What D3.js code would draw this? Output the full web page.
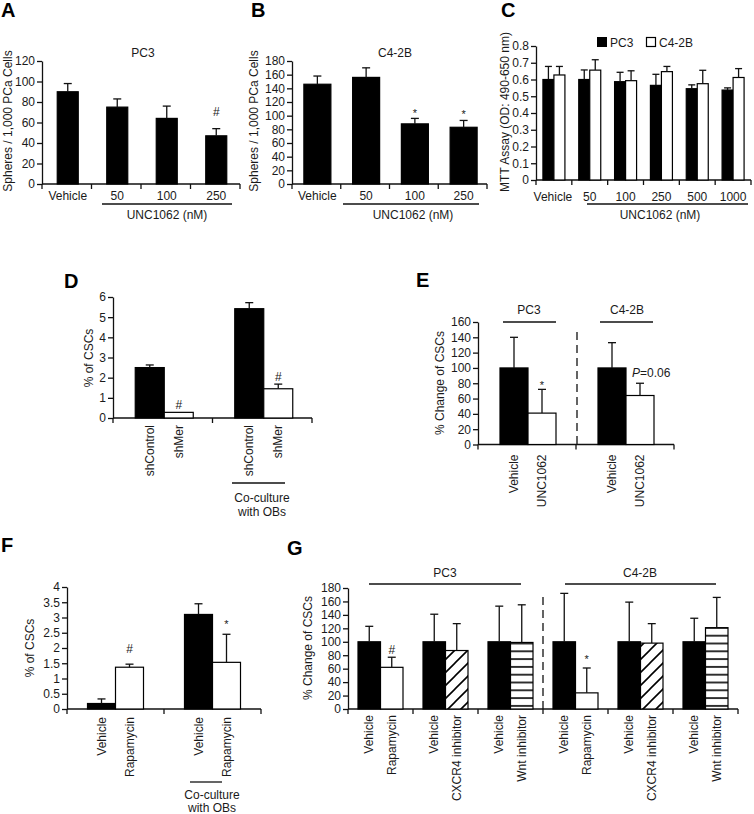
<!DOCTYPE html>
<html><head><meta charset="utf-8">
<script src="https://cdn.jsdelivr.net/npm/d3@7"></script>
<style>body{margin:0;background:#fff}</style>
</head><body>
<svg id="fig" width="754" height="814"></svg>
<script>
// ---------------- DATA ----------------
const doseCatsAB = ["Vehicle", "50", "100", "250"];
const aValues = [90, 75, 64, 47];
const aErrors = [8, 8, 12, 7];
const aMarks = ["", "", "", "#"];
const aMarkY = [null, null, null, 66];
const aTicks = [0, 20, 40, 60, 80, 100, 120];

const bValues = [146, 156, 88, 83];
const bErrors = [12, 14, 8, 10];
const bMarks = ["", "", "*", "*"];
const bMarkY = [null, null, 98, 96];
const bTicks = [0, 20, 40, 60, 80, 100, 120, 140, 160, 180];

const doseCatsC = ["Vehicle", "50", "100", "250", "500", "1000"];
const cPC3 = [0.60, 0.60, 0.587, 0.565, 0.545, 0.537];
const cPC3Err = [0.078, 0.057, 0.056, 0.066, 0.023, 0.013];
const cC42B = [0.627, 0.656, 0.593, 0.647, 0.575, 0.612];
const cC42BErr = [0.051, 0.062, 0.059, 0.031, 0.08, 0.053];
const cTicks = [0, 0.1, 0.2, 0.3, 0.4, 0.5, 0.6, 0.7, 0.8];
const cSeries = ["PC3", "C4-2B"];

const dGroups = ["mono", "coculture"];
const dCtrlLabels = ["shControl", "shControl"];
const dTrtLabels = ["shMer", "shMer"];
const dCtrl = [2.5, 5.42];
const dCtrlErr = [0.13, 0.3];
const dTrt = [0.28, 1.45];
const dTrtErr = [0, 0.23];
const dMarks = ["#", "#"];
const dMarkY = [0.47, 1.85];
const dTicks = [0, 1, 2, 3, 4, 5, 6];

const eGroups = ["PC3", "C4-2B"];
const eCtrlLabels = ["Vehicle", "Vehicle"];
const eTrtLabels = ["UNC1062", "UNC1062"];
const eCtrl = [100, 100];
const eCtrlErr = [40, 33];
const eTrt = [41, 64];
const eTrtErr = [31, 16];
const eMarks = ["*", "P=0.06"];
const eMarkY = [73, 88];
const eTicks = [0, 20, 40, 60, 80, 100, 120, 140, 160];

const fGroups = ["mono", "coculture"];
const fCtrlLabels = ["Vehicle", "Vehicle"];
const fTrtLabels = ["Rapamycin", "Rapamycin"];
const fCtrl = [0.18, 3.1];
const fCtrlErr = [0.15, 0.35];
const fTrt = [1.37, 1.53];
const fTrtErr = [0.1, 0.92];
const fMarks = ["#", "*"];
const fMarkY = [1.84, 2.64];
const fTicks = [0, 0.5, 1, 1.5, 2, 2.5, 3, 3.5, 4];

const gGroups = ["PC3-rapa", "PC3-cxcr4", "PC3-wnt", "C42B-rapa", "C42B-cxcr4", "C42B-wnt"];
const gCtrlLabels = ["Vehicle", "Vehicle", "Vehicle", "Vehicle", "Vehicle", "Vehicle"];
const gTrtLabels = ["Rapamycin", "CXCR4 inhibitor", "Wnt inhibitor", "Rapamycin", "CXCR4 inhibitor", "Wnt inhibitor"];
const gCtrl = [100, 100, 100, 100, 100, 100];
const gCtrlErr = [23, 41, 53, 72, 59, 35];
const gTrt = [62, 87, 99, 24, 98, 121];
const gTrtErr = [15, 40, 56, 37, 29, 45];
const gFills = ["white", "diag", "horiz", "white", "diag", "horiz"];
const gMarks = ["#", "", "", "*", "", ""];
const gMarkY = [82, null, null, 68, null, null];
const gTicks = [0, 20, 40, 60, 80, 100, 120, 140, 160, 180];

// ---------------- DRAWING ----------------
const FONT = '"Liberation Sans", Arial, Helvetica, sans-serif';
const INK = "#111";
const svg = d3.select("#fig");
svg.append("rect").attr("width", 754).attr("height", 814).attr("fill", "#fff");

const defs = svg.append("defs");
const pd = defs.append("pattern").attr("id", "diag").attr("patternUnits", "userSpaceOnUse")
  .attr("width", 13).attr("height", 13);
pd.append("rect").attr("width", 13).attr("height", 13).attr("fill", "#fff");
pd.append("path").attr("d", "M-3,3 L3,-3 M0,13 L13,0 M10,16 L16,10").attr("stroke", "#000").attr("stroke-width", 1.6);
const ph = defs.append("pattern").attr("id", "horiz").attr("patternUnits", "userSpaceOnUse")
  .attr("width", 10).attr("height", 7.8);
ph.append("rect").attr("width", 10).attr("height", 7.8).attr("fill", "#fff");
ph.append("line").attr("x1", 0).attr("x2", 10).attr("y1", 3.9).attr("y2", 3.9).attr("stroke", "#000").attr("stroke-width", 1.6);

function fillOf(k) { return k === "diag" ? "url(#diag)" : k === "horiz" ? "url(#horiz)" : k; }

function text(x, y, t, opts = {}) {
  const el = svg.append("text").attr("x", x).attr("y", y)
    .attr("font-family", FONT).attr("font-size", opts.size || 12)
    .attr("fill", "#1a1a1a").attr("text-anchor", opts.anchor || "middle")
    .attr("font-weight", opts.weight || "normal");
  if (opts.italicP) {
    el.append("tspan").attr("font-style", "italic").text("P");
    el.append("tspan").text(t.slice(1));
  } else el.text(t);
  return el;
}
function panelLabel(x, y, t) { text(x, y, t, { size: 20, weight: "bold", anchor: "start" }).attr("fill", "#000"); }
function vText(x, yTop, t) {
  svg.append("text").attr("transform", `translate(${x},${yTop}) rotate(-90)`)
    .attr("text-anchor", "end").attr("dy", "0.35em")
    .attr("font-family", FONT).attr("font-size", 12).attr("fill", "#1a1a1a").text(t);
}
function yTitle(x, yc, t) {
  svg.append("text").attr("transform", `translate(${x},${yc}) rotate(-90)`)
    .attr("text-anchor", "middle").attr("font-family", FONT).attr("font-size", 12)
    .attr("fill", "#1a1a1a").text(t);
}
function line(x1, y1, x2, y2, dash) {
  const l = svg.append("line").attr("x1", x1).attr("y1", y1).attr("x2", x2).attr("y2", y2)
    .attr("stroke", INK).attr("stroke-width", 1.3);
  if (dash) l.attr("stroke-dasharray", dash);
}
function yAxis(x, y, ticks, fmt) {
  const g = svg.append("g").attr("transform", `translate(${x},0)`)
    .call(d3.axisLeft(y).tickValues(ticks).tickFormat(fmt || d3.format("")).tickSize(5).tickSizeOuter(0).tickPadding(2));
  g.attr("font-family", FONT).attr("font-size", 12);
  g.select(".domain").attr("stroke", INK).attr("stroke-width", 1.3);
  g.selectAll(".tick line").attr("stroke", INK).attr("stroke-width", 1.3);
  g.selectAll(".tick text").attr("fill", "#1a1a1a");
}
function xAxis(xs, y0) {
  const [a, b] = xs.range();
  line(a, y0, b, y0);
  const n = xs.domain().length;
  for (let i = 0; i <= n; i++) {
    const bx = a + i * xs.step();
    line(bx, y0, bx, y0 + 5);
  }
}
function bar(x, w, y, v, fill) {
  svg.append("rect").attr("x", x).attr("y", y(v)).attr("width", w).attr("height", y(0) - y(v))
    .attr("fill", fillOf(fill)).attr("stroke", "#000").attr("stroke-width", 1.2);
}
function err(cx, y, v, e, cap = 8) {
  if (!e) return;
  line(cx, y(v), cx, y(v + e));
  line(cx - cap / 2, y(v + e), cx + cap / 2, y(v + e));
}
function mark(cx, y, m, my, anchor) {
  if (!m) return;
  if (m.startsWith("P=")) text(cx - 8, y(my), m, { anchor: "start", italicP: true, size: 12 });
  else text(cx, y(my), m, { size: m === "*" ? 11 : 12 });
}

// ---- Panel A ----
panelLabel(1, 17, "A");
{
  const y = d3.scaleLinear().domain([0, 120]).range([184, 61]);
  const x = d3.scaleBand().domain(doseCatsAB).range([42, 240]);
  yAxis(42, y, aTicks);
  xAxis(x, 184);
  const w = 21;
  doseCatsAB.forEach((c, i) => {
    const cx = x(c) + x.bandwidth() / 2 + 1;
    bar(cx - w / 2, w, y, aValues[i], "#000");
    err(cx, y, aValues[i], aErrors[i]);
    mark(cx, y, aMarks[i], aMarkY[i]);
    text(cx, 200, c);
  });
  line(102, 204, 232, 204);
  text(167, 219, "UNC1062 (nM)");
  text(143, 57, "PC3");
  yTitle(12, 121, "Spheres / 1,000 PCa Cells");
}
// ---- Panel B ----
panelLabel(251, 17, "B");
{
  const y = d3.scaleLinear().domain([0, 180]).range([184, 61]);
  const x = d3.scaleBand().domain(doseCatsAB).range([292, 487]);
  yAxis(292, y, bTicks);
  xAxis(x, 184);
  const w = 27;
  doseCatsAB.forEach((c, i) => {
    const cx = x(c) + x.bandwidth() / 2 + 1;
    bar(cx - w / 2, w, y, bValues[i], "#000");
    err(cx, y, bValues[i], bErrors[i]);
    mark(cx, y, bMarks[i], bMarkY[i]);
    text(cx, 200, c);
  });
  line(343, 204, 479, 204);
  text(413, 219, "UNC1062 (nM)");
  text(395, 57, "C4-2B");
  yTitle(258, 121, "Spheres / 1,000 PCa Cells");
}
// ---- Panel C ----
panelLabel(501, 17, "C");
{
  const y = d3.scaleLinear().domain([0, 0.8]).range([180, 46]);
  const x = d3.scaleBand().domain(doseCatsC).range([536, 751]);
  yAxis(536, y, cTicks, d => d === 0 ? "0" : d3.format(".1f")(d));
  xAxis(x, 180);
  const w = 11;
  doseCatsC.forEach((c, i) => {
    const cx = x(c) + x.bandwidth() / 2;
    bar(cx - w, w, y, cPC3[i], "#000");
    bar(cx, w, y, cC42B[i], "#fff");
    err(cx - w / 2, y, cPC3[i], cPC3Err[i], 7);
    err(cx + w / 2, y, cC42B[i], cC42BErr[i], 7);
    text(c === "Vehicle" ? cx - 1 : cx, 201, c);
  });
  line(587, 204, 748, 204);
  text(660, 219, "UNC1062 (nM)");
  // legend
  svg.append("rect").attr("x", 597).attr("y", 37).attr("width", 10).attr("height", 10).attr("fill", "#000");
  text(610, 46.5, cSeries[0], { anchor: "start" });
  svg.append("rect").attr("x", 646.5).attr("y", 37.5).attr("width", 9).attr("height", 9).attr("fill", "#fff").attr("stroke", "#000").attr("stroke-width", 1.2);
  text(659, 46.5, cSeries[1], { anchor: "start" });
  yTitle(509, 112, "MTT Assay (OD: 490-650 nm)");
}
// ---- paired panel helper ----
function paired(cfg) {
  const y = d3.scaleLinear().domain(cfg.yDomain).range(cfg.yRange);
  const x = d3.scaleBand().domain(cfg.groups).range(cfg.xRange);
  yAxis(cfg.xRange[0], y, cfg.ticks, cfg.fmt);
  xAxis(x, cfg.yRange[0]);
  const w = cfg.w;
  cfg.groups.forEach((g, i) => {
    const cx = x(g) + x.bandwidth() / 2 + (cfg.shift || 0);
    bar(cx - w, w, y, cfg.ctrl[i], "#000");
    bar(cx, w, y, cfg.trt[i], cfg.fills ? cfg.fills[i] : "#fff");
    err(cx - w / 2, y, cfg.ctrl[i], cfg.ctrlErr[i]);
    err(cx + w / 2, y, cfg.trt[i], cfg.trtErr[i]);
    mark(cx + w / 2, y, cfg.marks[i], cfg.markY[i]);
    vText(cx - w / 2, cfg.yRange[0] + cfg.labGap, cfg.ctrlLabels[i]);
    vText(cx + w / 2, cfg.yRange[0] + cfg.labGap, cfg.trtLabels[i]);
  });
  return { x, y };
}
// ---- Panel D ----
panelLabel(64, 288, "D");
paired({ groups: dGroups, yDomain: [0, 6], yRange: [418, 297], xRange: [113, 312], ticks: dTicks,
  w: 29, shift: 1.5, ctrl: dCtrl, ctrlErr: dCtrlErr, trt: dTrt, trtErr: dTrtErr, marks: dMarks, markY: dMarkY,
  ctrlLabels: dCtrlLabels, trtLabels: dTrtLabels, labGap: 7 });
line(232, 483, 285, 483);
text(262, 502, "Co-culture");
text(262, 516, "with OBs");
yTitle(93, 358, "% of CSCs");
// ---- Panel E ----
panelLabel(416, 287, "E");
paired({ groups: eGroups, yDomain: [0, 160], yRange: [444.5, 322], xRange: [478, 674], ticks: eTicks,
  w: 28, shift: 1, ctrl: eCtrl, ctrlErr: eCtrlErr, trt: eTrt, trtErr: eTrtErr, marks: eMarks, markY: eMarkY,
  ctrlLabels: eCtrlLabels, trtLabels: eTrtLabels, labGap: 10 });
line(577, 332, 577, 444, "8,5");
line(503, 322, 556, 322);
line(600, 322, 653, 322);
text(529, 314, eGroups[0]);
text(627, 314, eGroups[1]);
yTitle(444, 383, "% Change of CSCs");
// ---- Panel F ----
panelLabel(1, 552, "F");
paired({ groups: fGroups, yDomain: [0, 4], yRange: [709, 587], xRange: [67, 261], ticks: fTicks,
  w: 28, shift: 0, ctrl: fCtrl, ctrlErr: fCtrlErr, trt: fTrt, trtErr: fTrtErr, marks: fMarks, markY: fMarkY,
  ctrlLabels: fCtrlLabels, trtLabels: fTrtLabels, labGap: 8, fmt: d => d3.format("")(d) });
line(190, 782, 222, 782);
text(212, 799, "Co-culture");
text(212, 812, "with OBs");
yTitle(34, 648, "% of CSCs");
// ---- Panel G ----
panelLabel(287, 555, "G");
paired({ groups: gGroups, yDomain: [0, 180], yRange: [709, 588], xRange: [348, 738], ticks: gTicks,
  w: 22.5, shift: 0, ctrl: gCtrl, ctrlErr: gCtrlErr, trt: gTrt, trtErr: gTrtErr, marks: gMarks, markY: gMarkY,
  fills: gFills, ctrlLabels: gCtrlLabels, trtLabels: gTrtLabels, labGap: 6 });
line(543, 597, 543, 709, "8,5");
line(369, 584, 521, 584);
line(565, 584, 716, 584);
text(445, 577, "PC3");
text(640, 577, "C4-2B");
yTitle(312, 648, "% Change of CSCs");
</script>
</body></html>
